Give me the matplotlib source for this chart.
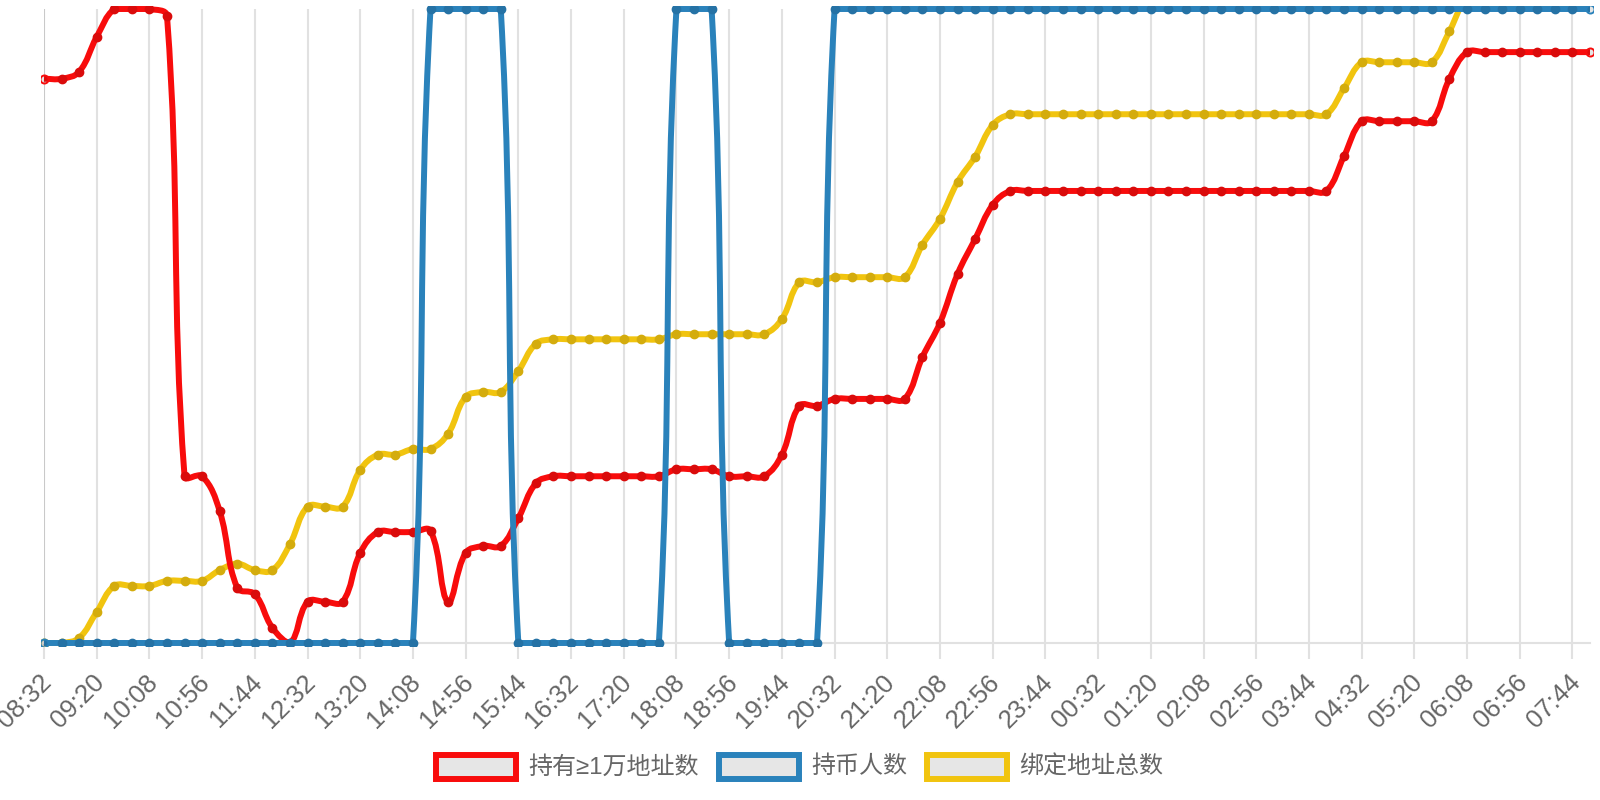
import numpy as np
import matplotlib
matplotlib.use('Agg')
import matplotlib.pyplot as plt
from matplotlib.path import Path
from matplotlib.patches import PathPatch, Rectangle
from matplotlib.colors import to_rgb
from matplotlib.transforms import ScaledTranslation

# one sample every 16 minutes, 08:32 -> 08:00 next day (89 samples)
# labels are shown on every 3rd sample
tick_labels = ['08:32', '09:20', '10:08', '10:56', '11:44', '12:32', '13:20', '14:08',
               '14:56', '15:44', '16:32', '17:20', '18:08', '18:56', '19:44', '20:32',
               '21:20', '22:08', '22:56', '23:44', '00:32', '01:20', '02:08', '02:56',
               '03:44', '04:32', '05:20', '06:08', '06:56', '07:44']

series_names = ['持有≥1万地址数', '持币人数', '绑定地址总数']

# every series has its own hidden scale; values read as % of the plot height
holders_10k = [89.0, 89.0, 90.1, 95.6, 100, 100, 100, 98.9,
               26.3, 26.3, 20.8, 8.7, 7.7, 2.4, 0,
               6.5, 6.5, 6.5, 14.2, 17.5, 17.5, 17.5, 17.7,
               6.5, 14.2, 15.3, 15.3, 19.7, 25.2,
               26.3, 26.3, 26.3, 26.3, 26.3, 26.3, 26.3,
               27.4, 27.4, 27.4, 26.3, 26.3, 26.3,
               29.7, 37.4, 37.4, 38.5, 38.5, 38.5, 38.5, 38.5,
               45.1, 50.5, 58.2, 63.7, 69.1,
               71.3, 71.3, 71.3, 71.3, 71.3, 71.3, 71.3, 71.3, 71.3, 71.3,
               71.3, 71.3, 71.3, 71.3, 71.3, 71.3, 71.3, 71.3, 71.3,
               76.8, 82.3, 82.3, 82.3, 82.3, 82.3, 89.0,
               93.2, 93.2, 93.2, 93.2, 93.2, 93.2, 93.2, 93.2]

holders = [0, 0, 0, 0, 0, 0, 0, 0, 0, 0, 0, 0, 0, 0, 0, 0, 0, 0, 0, 0, 0, 0,
           100, 100, 100, 100, 100,
           0, 0, 0, 0, 0, 0, 0, 0, 0,
           100, 100, 100,
           0, 0, 0, 0, 0, 0,
           100, 100, 100, 100, 100, 100, 100, 100, 100, 100, 100,
           100, 100, 100, 100, 100, 100, 100, 100, 100, 100, 100,
           100, 100, 100, 100, 100, 100, 100, 100, 100, 100, 100,
           100, 100, 100, 100, 100, 100, 100, 100, 100, 100, 100]

bound_addr = [0, 0, 0.8, 4.9, 9.0, 9.0, 9.0, 9.8, 9.8, 9.8,
              11.5, 12.5, 11.5, 11.5, 15.6, 21.5, 21.5, 21.5,
              27.3, 29.7, 29.7, 30.6, 30.6, 33.0, 38.8, 39.6, 39.6, 42.9, 47.2,
              47.9, 47.9, 47.9, 47.9, 47.9, 47.9, 47.9,
              48.7, 48.7, 48.7, 48.7, 48.7, 48.7,
              51.1, 56.9, 56.9, 57.7, 57.7, 57.7, 57.7, 57.7,
              62.8, 66.9, 72.7, 76.7, 81.7,
              83.4, 83.4, 83.4, 83.4, 83.4, 83.4, 83.4, 83.4, 83.4, 83.4,
              83.4, 83.4, 83.4, 83.4, 83.4, 83.4, 83.4, 83.4, 83.4,
              87.5, 91.6, 91.6, 91.6, 91.6, 91.6, 96.5,
              101.9, 101.9, 101.9, 101.9, 101.9, 101.9, 101.9, 101.9]

colors = ['#f80c0c', '#2a82bb', '#f1c40f']


def spline_path(ax, xs, ys, tension=0.4):
    # bezier curve like chart.js line tension, control points kept inside the area
    pts = ax.transData.transform(np.column_stack([xs, ys]))
    bb = ax.bbox
    n = len(pts)
    cp_prev = np.zeros_like(pts)
    cp_next = np.zeros_like(pts)
    for i in range(n):
        cur = pts[i]
        prv = pts[i - 1] if i > 0 else cur
        nxt = pts[i + 1] if i < n - 1 else cur
        d01 = np.hypot(*(cur - prv))
        d12 = np.hypot(*(nxt - cur))
        tot = d01 + d12
        s01 = d01 / tot if tot else 0
        s12 = d12 / tot if tot else 0
        cp_prev[i] = cur - tension * s01 * (nxt - prv)
        cp_next[i] = cur + tension * s12 * (nxt - prv)
    for cp in (cp_prev, cp_next):
        cp[:, 0] = np.clip(cp[:, 0], bb.x0, bb.x1)
        cp[:, 1] = np.clip(cp[:, 1], bb.y0, bb.y1)
    verts = [pts[0]]
    codes = [Path.MOVETO]
    for i in range(1, n):
        verts += [cp_next[i - 1], cp_prev[i], pts[i]]
        codes += [Path.CURVE4] * 3
    verts = ax.transData.inverted().transform(np.array(verts))
    return Path(verts, codes)


W, H = 1600, 800
fig = plt.figure(figsize=(16, 8), dpi=100)
ax = fig.add_axes([44 / W, 1 - 643 / H, 1546 / W, 634 / H])
x = np.arange(len(holders_10k))
ax.set_xlim(0, len(x) - 1)
ax.set_ylim(0, 100)

for s in ['left', 'right', 'top']:
    ax.spines[s].set_visible(False)
ax.spines['bottom'].set_color('#e1e1e1')
ax.spines['bottom'].set_linewidth(1.5)
ax.set_yticks([])

ax.set_xticks(x[::3])
ax.set_xticklabels(tick_labels, rotation=45, ha='right', va='center',
                   rotation_mode='anchor', fontsize=18.5, color='#666666',
                   family=['Liberation Sans', 'DejaVu Sans'])
ax.tick_params(axis='x', length=11.5, width=1.5, color='#e1e1e1', pad=14)
shift = ScaledTranslation(4 / 100, 0, fig.dpi_scale_trans)
for lbl in ax.get_xticklabels():
    lbl.set_transform(lbl.get_transform() + shift)
ax.grid(axis='x', color='#e1e1e1', linewidth=1.5)
ax.set_axisbelow(True)
t0 = ax.xaxis.get_major_ticks()[0]
t0.gridline.set_color('#c9c9c9')
t0.tick1line.set_color('#c9c9c9')

# clip a little outside the area so lines at the edges keep their full width
clip = Rectangle((-3 / 1546, -3 / 634), 1 + 6 / 1546, 1 + 6 / 634,
                 transform=ax.transAxes, facecolor='none', edgecolor='none')
ax.add_patch(clip)

data = [holders_10k, holders, bound_addr]
zorders = [4, 6, 2]
for vals, c, z in zip(data, colors, zorders):
    p = PathPatch(spline_path(ax, x, vals), facecolor='none', edgecolor=c,
                  linewidth=4.3, capstyle='butt', joinstyle='round', zorder=z)
    ax.add_patch(p)
    p.set_clip_path(clip)
    dark = tuple(0.88 * v for v in to_rgb(c))
    m, = ax.plot(x[1:-1], vals[1:-1], 'o', ms=6, mfc=dark, mec=dark, mew=1,
                 zorder=z + 0.5)
    m.set_clip_path(clip)
    # end points show the light point fill over the background
    e, = ax.plot(x[[0, -1]], [vals[0], vals[-1]], 'o', ms=5.8, mfc=(0, 0, 0, 0.1),
                 mec=c, mew=1.4, zorder=z + 0.5)
    e.set_clip_path(clip)

# legend
box_x = [436, 719, 927]
for bx, name, c in zip(box_x, series_names, colors):
    fig.add_artist(Rectangle((bx / W, 1 - 779 / H), 80 / W, 24 / H,
                             transform=fig.transFigure, facecolor='#e6e6e6',
                             edgecolor=c, linewidth=4.3))
    fig.text((bx + 92) / W, 1 - 767 / H, name, ha='left', va='center',
             fontsize=17.3, color='#666666',
             family=['Liberation Sans', 'Noto Sans CJK SC', 'DejaVu Sans'])

fig.savefig('out.png', dpi=100)
